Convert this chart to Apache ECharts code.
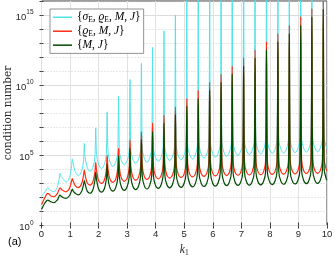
<!DOCTYPE html>
<html><head><meta charset="utf-8">
<script src="https://cdn.jsdelivr.net/npm/echarts@6/dist/echarts.min.js"></script>
<style>html,body{margin:0;padding:0;background:#fff}#c{width:335px;height:256px}</style>
</head><body><div id="c"></div>
<script>
// sample positions along k1
const k1 = [0,
0.12,0.19,0.22,0.25,0.32, 0.43,
0.55,0.62,0.65,0.68,0.75, 0.86,
0.98,1.05,1.08,1.11,1.18, 1.29,
1.40,1.47,1.50,1.53,1.60, 1.70,
1.80,1.87,1.90,1.93,2.00, 2.10,
2.20,2.27,2.30,2.33,2.40, 2.50,
2.60,2.67,2.70,2.73,2.80, 2.90,
3.00,3.07,3.10,3.13,3.20, 3.30,
3.40,3.47,3.50,3.53,3.60, 3.695,
3.79,3.86,3.89,3.92,3.99, 4.09,
4.19,4.26,4.29,4.32,4.39, 4.49,
4.59,4.66,4.69,4.72,4.79, 4.89,
4.99,5.06,5.09,5.12,5.19, 5.29,
5.39,5.46,5.49,5.52,5.59, 5.69,
5.79,5.86,5.89,5.92,5.99, 6.09,
6.19,6.26,6.29,6.32,6.39, 6.485,
6.58,6.65,6.68,6.71,6.78, 6.88,
6.98,7.05,7.08,7.11,7.18, 7.28,
7.38,7.45,7.48,7.51,7.58, 7.68,
7.78,7.85,7.88,7.91,7.98, 8.08,
8.18,8.25,8.28,8.31,8.38, 8.48,
8.58,8.65,8.68,8.71,8.78, 8.88,
8.98,9.05,9.08,9.11,9.18, 9.275,
9.37,9.44,9.47,9.50,9.57, 9.67,
9.77,9.84,9.87,9.90,9.97,
10];

// log10 of condition number, {sigma_E, rho_E, M, J}
const cyanLog10 = [2.1,
2.40,2.62,2.68,2.64,2.50, 2.40,
2.70,3.35,3.71,3.50,3.35, 3.10,
3.40,4.20,4.75,4.40,3.85, 3.55,
3.85,4.55,5.85,4.85,4.15, 3.85,
4.15,4.85,6.95,5.05,4.35, 4.05,
4.35,5.05,8.10,5.20,4.50, 4.20,
4.50,5.20,9.22,5.32,4.62, 4.32,
4.62,5.32,10.4,5.42,4.72, 4.42,
4.72,5.42,11.56,5.50,4.80, 4.50,
4.80,5.50,12.7,5.56,4.86, 4.56,
4.86,5.56,13.88,5.62,4.92, 4.62,
4.92,5.62,15.0,5.68,4.98, 4.68,
4.98,5.68,16.2,5.74,5.04, 4.74,
5.04,5.74,17.3,5.80,5.10, 4.80,
5.10,5.80,18.4,5.86,5.16, 4.86,
5.16,5.86,19.5,5.93,5.23, 4.93,
5.23,5.93,20,6.00,5.30, 5.00,
5.30,6.00,20,6.05,5.35, 5.05,
5.35,6.05,20,6.10,5.40, 5.10,
5.40,6.10,20,6.13,5.43, 5.13,
5.43,6.13,20,6.16,5.46, 5.16,
5.46,6.16,20,6.19,5.49, 5.19,
5.49,6.19,20,6.22,5.52, 5.22,
5.52,6.22,20,6.25,5.55, 5.25,
5.55,6.25,20,6.30,5.62,
5.50];

// log10 of condition number, {rho_E, M, J}
const redLog10 = [1.48,
2.00,2.25,2.29,2.26,2.12, 2.05,
2.25,2.60,2.69,2.62,2.50, 2.40,
2.65,3.15,3.35,3.15,2.85, 2.70,
2.95,3.55,3.95,3.60,3.05, 2.88,
3.12,3.80,4.50,3.90,3.20, 3.00,
3.22,3.95,5.00,4.00,3.30, 3.08,
3.30,4.05,5.50,4.10,3.37, 3.15,
3.37,4.12,6.10,4.20,3.45, 3.23,
3.45,4.20,6.70,4.25,3.50, 3.28,
3.50,4.25,7.30,4.30,3.55, 3.33,
3.55,4.30,7.85,4.35,3.60, 3.38,
3.60,4.35,8.44,4.40,3.64, 3.42,
3.64,4.40,9.04,4.44,3.68, 3.46,
3.68,4.44,9.63,4.48,3.72, 3.50,
3.72,4.48,10.2,4.51,3.75, 3.53,
3.75,4.51,10.77,4.54,3.78, 3.56,
3.78,4.54,11.36,4.56,3.80, 3.58,
3.80,4.56,11.95,4.58,3.82, 3.60,
3.82,4.58,12.52,4.60,3.84, 3.62,
3.84,4.60,13.11,4.62,3.86, 3.64,
3.86,4.62,13.68,4.64,3.88, 3.66,
3.88,4.64,14.27,4.66,3.90, 3.68,
3.90,4.66,14.89,4.68,3.92, 3.70,
3.92,4.68,15.46,4.70,3.94, 3.72,
3.94,4.70,16.05,4.75,4.00,
3.90];

// log10 of condition number, {M, J}
const greenLog10 = [1.15,
1.60,1.78,1.81,1.79,1.70, 1.62,
1.80,2.10,2.17,2.10,2.00, 1.93,
2.12,2.45,2.60,2.45,2.30, 2.18,
2.40,2.90,3.20,2.95,2.45, 2.30,
2.55,3.20,3.80,3.25,2.60, 2.38,
2.62,3.30,4.35,3.35,2.68, 2.45,
2.70,3.38,4.95,3.42,2.74, 2.50,
2.76,3.45,5.50,3.48,2.80, 2.56,
2.82,3.50,6.10,3.53,2.84, 2.60,
2.86,3.55,6.70,3.57,2.88, 2.64,
2.90,3.59,7.30,3.61,2.92, 2.68,
2.94,3.63,7.90,3.65,2.96, 2.72,
2.98,3.67,8.49,3.68,2.99, 2.75,
3.00,3.70,9.04,3.71,3.02, 2.78,
3.03,3.73,9.63,3.74,3.05, 2.81,
3.06,3.76,10.2,3.77,3.08, 2.84,
3.09,3.78,10.79,3.79,3.10, 2.86,
3.11,3.80,11.36,3.81,3.12, 2.88,
3.13,3.82,11.95,3.83,3.14, 2.90,
3.15,3.84,12.52,3.85,3.16, 2.92,
3.17,3.86,13.11,3.87,3.18, 2.94,
3.19,3.88,13.68,3.89,3.20, 2.96,
3.21,3.90,14.27,3.91,3.22, 2.98,
3.23,3.92,14.86,3.93,3.25, 3.00,
3.25,3.95,15.42,4.00,3.35,
3.25];

const seriesNames = ['{σE, ϱE, M, J}', '{ϱE, M, J}', '{M, J}'];
const legendRich = [
  '{{i|σ}{s|E}, {i|ϱ}{s|E}, {i|M}, {i|J}}',
  '{{i|ϱ}{s|E}, {i|M}, {i|J}}',
  '{{i|M}, {i|J}}'
];
const yLabelExponents = [0, 5, 10, 15];
const yTitle = 'condition number';

const chart = echarts.init(document.getElementById('c'), null, {renderer: 'canvas', width: 335, height: 256});
const toData = arr => k1.map((x, i) => [x, arr[i]]);
const serif = 'Liberation Serif';
const sans = 'Liberation Sans';
const ink = '#262626';

const lineSeries = (name, arr, color, w) => ({
  name, type: 'line', data: toData(arr), showSymbol: false, symbol: 'none',
  smooth: 0.3, clip: true, animation: false,
  lineStyle: {color, width: w}, itemStyle: {color}
});

chart.setOption({
  animation: false,
  backgroundColor: '#fff',
  grid: {left: 41.5, right: 8, top: 1, bottom: 30.5, containLabel: false, outerBoundsMode: 'none',
         show: true, borderColor: '#3a3a3a', borderWidth: 1, backgroundColor: '#fff'},
  legend: {
    left: 50, top: 9, orient: 'vertical', itemWidth: 19, itemHeight: 1.5, itemGap: 1.2,
    icon: 'rect',
    padding: [2, 3, 2, 3], borderColor: '#777', borderWidth: 0.8, backgroundColor: '#fff',
    data: seriesNames,
    formatter: name => legendRich[seriesNames.indexOf(name)],
    textStyle: {
      fontFamily: serif, fontSize: 11.5, color: '#000', lineHeight: 12.5,
      rich: {
        i: {fontFamily: serif, fontStyle: 'italic', fontSize: 11.5, color: '#000'},
        s: {fontFamily: serif, fontSize: 7.5, color: '#000', padding: [5, 0, 0, 0]}
      }
    }
  },
  xAxis: [{
    type: 'value', min: 0, max: 10, interval: 1, position: 'bottom',
    axisLine: {show: false},
    axisTick: {inside: true, length: 3, lineStyle: {color: '#3a3a3a'}},
    axisLabel: {fontFamily: sans, fontSize: 9.5, color: ink, margin: 4},
    splitLine: {show: true, lineStyle: {color: '#e2e2e2', width: 1}},
    name: '{i|k}{s|1}', nameLocation: 'middle', nameGap: 16,
    nameTextStyle: {rich: {
      i: {fontFamily: serif, fontStyle: 'italic', fontSize: 11.5, color: ink},
      s: {fontFamily: serif, fontSize: 7.5, color: ink, padding: [5, 0, 0, 0]}
    }}
  }, {
    type: 'value', min: 0, max: 10, interval: 1, position: 'top',
    axisLine: {show: false}, axisLabel: {show: false}, splitLine: {show: false},
    axisTick: {inside: true, length: 3, lineStyle: {color: '#3a3a3a'}}
  }],
  yAxis: [{
    type: 'value', min: 0, max: 16, interval: 1,
    axisLine: {show: false},
    axisTick: {inside: true, length: 2, lineStyle: {color: '#3a3a3a'}},
    axisLabel: {
      margin: 8,
      formatter: v => yLabelExponents.includes(v) ? '{b|10}{s|' + v + '}' : '',
      rich: {
        b: {fontFamily: sans, fontSize: 9.5, color: ink, padding: [4, 0, 0, 0]},
        s: {fontFamily: sans, fontSize: 6.5, color: ink, padding: [0, 0, 5, 0]}
      }
    },
    splitLine: {show: true, lineStyle: {type: [1, 2], color: '#c4c4c4', width: 0.8}}
  }, {
    type: 'value', min: 0, max: 16, interval: 1, position: 'right',
    axisLine: {show: false}, axisLabel: {show: false},
    axisTick: {inside: true, length: 2, lineStyle: {color: '#3a3a3a'}},
    splitLine: {show: true, lineStyle: {color: ['#dcdcdc', 'rgba(0,0,0,0)', 'rgba(0,0,0,0)', 'rgba(0,0,0,0)', 'rgba(0,0,0,0)'], width: 1}}
  }],
  graphic: [
    {type: 'text', left: 8, top: 236, style: {text: '(a)', font: '11px "Liberation Sans"', fill: '#000'}},
    {type: 'text', x: 8, y: 113, rotation: Math.PI / 2,
     style: {text: yTitle, font: '10.5px "DejaVu Serif"', fill: ink, align: 'center', verticalAlign: 'middle'}}
  ],
  series: [
    lineSeries(seriesNames[0], cyanLog10, '#4fe3ea', 1),
    lineSeries(seriesNames[1], redLog10, '#ff2d14', 1.2),
    lineSeries(seriesNames[2], greenLog10, '#004b00', 1.2)
  ]
});
</script></body></html>
